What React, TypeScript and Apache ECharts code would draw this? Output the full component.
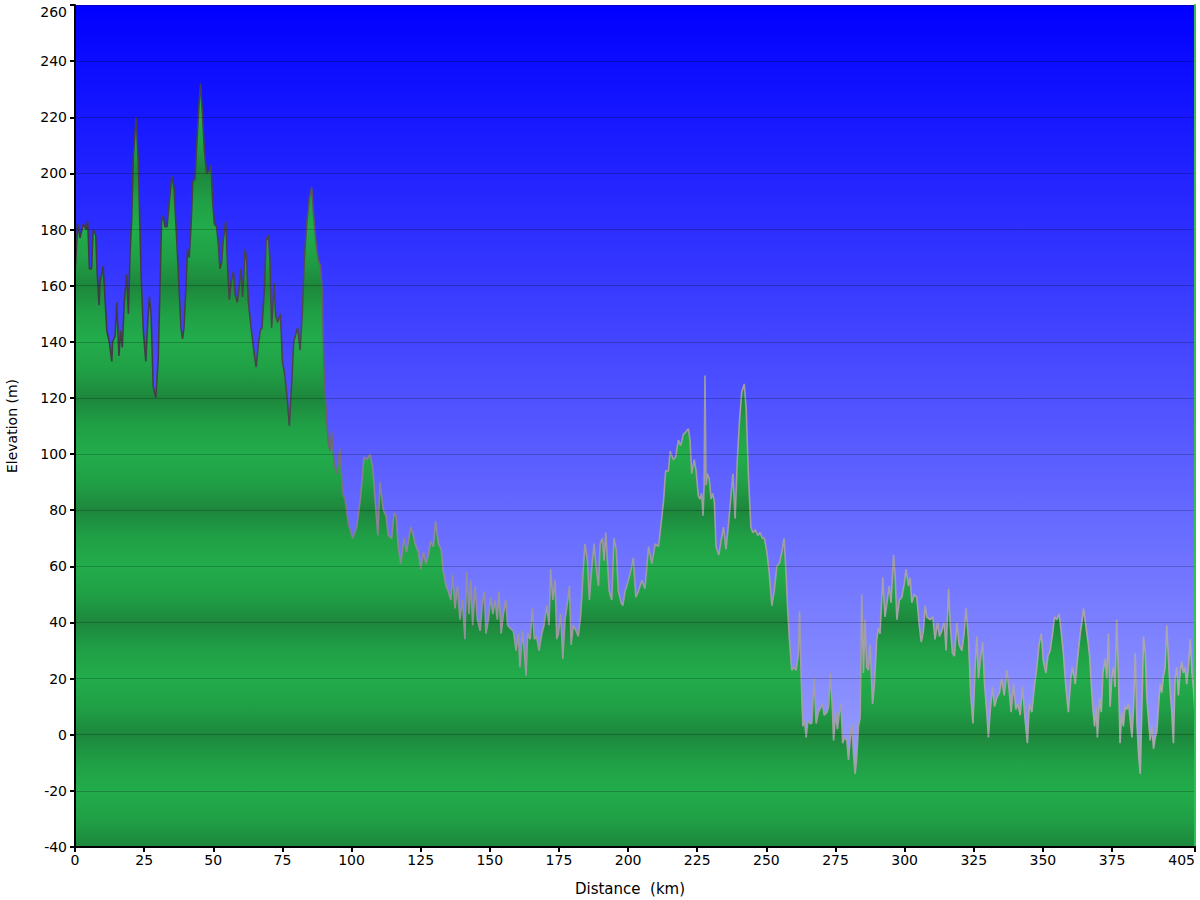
import React, { useEffect, useRef } from "react";
import * as echarts from "echarts";

// Distance along the route (km)
const distanceKm: number[] = [
  0, 0.96, 1.8, 3.0, 4.0, 4.6, 5.2, 6.0, 6.6, 7.5, 8.0, 8.7, 9.0, 10.2, 11.5, 12.4, 13.3, 13.6, 14.5, 15.1,
  15.9, 16.5, 17.1, 17.8, 18.7, 19.3, 19.9, 20.5, 21.1, 22.1, 22.9, 23.9, 24.7, 25.6, 26.3, 26.9, 27.5, 28.3, 29.2, 30.1,
  30.7, 31.3, 31.9, 32.5, 33.3, 34.1, 35.0, 35.8, 36.8, 37.4, 38.3, 38.9, 39.4, 40.1, 40.7, 41.3, 42.0, 42.6, 43.4, 44.0,
  44.8, 45.4, 46.1, 46.8, 47.6, 48.6, 49.2, 49.7, 50.4, 51.2, 51.8, 52.4, 53.0, 53.6, 54.5, 55.2, 55.8, 56.4, 57.3, 57.9,
  58.7, 59.3, 60.0, 60.6, 61.5, 62.1, 62.7, 63.9, 64.9, 65.5, 66.3, 67.0, 67.6, 68.5, 69.1, 69.9, 70.5, 71.1, 72.0, 72.6,
  73.3, 74.3, 75.0, 75.9, 76.8, 77.5, 78.4, 79.1, 79.9, 80.5, 81.4, 82.2, 82.9, 83.8, 84.7, 85.6, 86.3, 87.2, 88.0, 88.8,
  89.4, 90.1, 90.8, 91.6, 92.2, 92.8, 93.7, 94.6, 95.8,
  96.8, 97.6, 98.9, 100.4, 101.9, 103.3, 104.5, 105.5, 106.7, 107.7, 108.5, 109.5, 110.3, 111.5, 112.5, 113.3, 114.5, 115.4, 116.1, 116.9,
  117.8, 119.0, 119.9, 121.4, 122.1, 123.0, 124.2, 125.0, 126.0, 126.9, 127.8, 128.6, 129.6, 130.4, 131.4, 132.4, 133.2, 134.2, 135.0, 135.9,
  136.6, 137.4, 138.3, 139.2, 140.1, 141.0, 141.6, 142.5, 143.1, 143.8, 144.7, 145.5, 146.5, 147.2, 148.0, 148.6, 149.5, 150.3, 151.1, 151.9,
  152.7, 153.3, 154.1, 154.9, 155.8, 156.4, 157.3, 158.5, 159.5, 160.3, 160.9, 161.8, 162.5, 163.1, 163.7, 164.6, 165.4, 166.1, 166.9, 167.8,
  168.8, 169.6, 170.6, 171.4, 172.0, 172.8, 173.6, 174.2, 174.8, 175.6, 176.4, 177.2, 178.2, 178.8, 179.4, 180.2, 181.2, 182.0, 182.9, 183.8,
  184.4, 185.3, 186.0, 186.9, 187.7, 188.4, 189.3, 189.9, 190.7, 191.3, 191.9, 192.5, 193.2, 194.1, 194.9, 195.7, 196.5, 197.5,
  198.1, 198.9, 200.1, 201.1, 201.9, 202.8, 203.7, 205.0, 206.1, 207.4, 208.6, 209.8, 211.0, 211.8, 212.8, 213.6, 214.6, 215.2, 216.4, 217.2,
  218.2, 219.0, 220.0, 221.0, 221.8, 222.4, 223.0, 223.9, 224.6, 225.4, 226.0, 226.6, 227.1, 227.5, 227.8, 228.2, 228.7, 229.4, 230.0, 230.6,
  231.2, 231.8, 232.8, 233.6, 234.5, 235.4, 236.3, 237.1, 237.9, 238.7, 239.5, 240.3, 241.1, 242.0, 242.7, 243.5, 244.4, 245.1, 246.0, 246.9,
  247.7, 248.6, 249.3, 250.2, 251.0, 252.0, 252.8, 253.8, 254.7, 255.6, 256.4, 257.1, 257.7, 258.4, 259.2, 260.0, 260.8, 261.6, 262.0, 262.6,
  263.2, 263.8, 264.4, 265.0, 265.8, 266.4, 267.3, 268.0, 268.8, 269.8, 270.3, 270.9, 271.9, 272.5, 273.1, 273.9, 274.3, 275.1, 275.7, 276.4,
  277.0, 277.6, 278.2, 279.1, 279.7, 280.3, 280.9, 281.5, 282.1, 282.7, 283.3, 283.9,
  284.5, 285.1, 285.7, 286.3, 286.9, 287.5, 288.4, 289.1, 289.9, 290.5, 291.1, 292.1, 292.9, 293.6, 294.4, 295.1, 296.0, 296.6, 297.2, 298.1,
  299.0, 299.9, 300.5, 301.4, 302.0, 302.6, 303.4, 304.4, 305.2, 306.0, 306.8, 307.4, 308.0, 309.2, 310.2, 311.0, 311.9, 312.6, 313.4, 314.3,
  315.0, 315.9, 316.5, 317.3, 318.0, 318.9, 319.7, 320.7, 321.5, 322.2, 323.1, 323.9, 324.7, 325.5, 326.1, 326.7, 327.3, 328.2, 328.9, 329.7,
  330.3, 330.9, 331.8, 332.5, 333.3, 334.3, 335.1, 336.0, 337.0, 337.8, 338.5, 339.4, 340.2, 340.9, 341.8, 342.6, 343.6, 344.4, 345.1, 346.0,
  346.8, 347.8, 348.6, 349.4, 350.2, 351.1, 351.8, 352.6, 353.5, 354.2, 355.0, 355.9, 356.6, 357.4, 358.3, 359.2, 360.1, 360.7, 361.7, 362.5,
  363.5, 364.1, 364.7, 365.5, 366.2, 366.9, 367.5, 368.1, 368.7, 369.3, 369.7, 370.5, 371.1, 371.7, 372.5, 373.1, 373.7, 374.3, 374.9, 375.5,
  376.1, 376.7, 377.3, 377.9, 378.5, 379.1, 379.7, 380.3, 381.0, 381.6, 382.2, 382.8, 383.4, 384.0, 384.6, 385.2, 385.8, 386.4, 387.0, 387.6,
  388.3, 388.8, 389.4, 390.0, 390.6, 391.2, 391.8, 392.4, 393.0, 393.6, 394.2, 394.8, 395.4, 396.0, 396.6, 397.2, 397.8, 398.4, 399.0, 399.6,
  400.2, 400.8, 401.4, 402.0, 402.6, 403.3, 403.9, 404.5, 405,
];

// Elevation (m)
const elevationM: number[] = [
  164, 182, 177, 182, 180, 183, 166, 166, 180, 178, 165, 153, 161, 167, 144, 140, 133, 140, 142, 154,
  135, 144, 138, 154, 164, 150, 171, 184, 206, 220, 204, 164, 144, 133, 147, 156, 150, 124, 120, 134,
  158, 183, 185, 181, 181, 190, 199, 195, 176, 164, 145, 141, 145, 159, 173, 170, 182, 197, 198, 210,
  224, 232, 221, 208, 200, 201, 203, 191, 182, 181, 175, 166, 168, 176, 183, 166, 155, 161, 165, 157,
  154, 159, 166, 156, 173, 169, 154, 143, 135, 131, 139, 144, 145, 159, 176, 178, 169, 145, 161, 149,
  147, 150, 133, 128, 119, 110, 126, 140, 143, 145, 137, 150, 169, 182, 191, 195, 185, 175, 169, 167,
  158, 128, 116, 104, 101, 108, 97, 93, 102,
  86, 84, 75, 70, 74, 85, 99, 98, 100, 95, 84, 71, 90, 80, 78, 71, 70, 79, 78, 67,
  61, 70, 65, 74, 72, 68, 65, 59, 65, 61, 64, 69, 67, 76, 68, 66, 58, 53, 51, 48,
  57, 45, 53, 41, 48, 34, 58, 43, 55, 39, 53, 41, 37, 46, 51, 36, 41, 49, 43, 48,
  41, 51, 36, 43, 48, 39, 38, 37, 30, 36, 24, 37, 29, 21, 36, 34, 45, 34, 35, 30,
  36, 39, 46, 39, 59, 48, 55, 34, 36, 43, 27, 41, 48, 53, 32, 39, 37, 35, 43, 59,
  68, 62, 48, 60, 68, 60, 53, 68, 70, 62, 72, 62, 51, 48, 70, 66, 51, 47,
  46, 51, 55, 59, 63, 49, 51, 55, 52, 67, 61, 68, 67, 74, 83, 94, 94, 101, 98, 99,
  105, 103, 107, 108, 109, 105, 93, 98, 94, 85, 84, 86, 78, 89, 128, 89, 93, 91, 84, 86,
  83, 67, 64, 69, 74, 66, 75, 84, 93, 77, 98, 112, 122, 125, 116, 93, 74, 72, 73, 71,
  72, 70, 70, 65, 58, 46, 51, 60, 61, 65, 70, 58, 45, 33, 23, 24, 23, 29, 44, 20,
  3, 5, -1, 5, 4, 4, 20, 4, 8, 10, 11, 7, 8, 10, 22, 9, -2, 8, 2, 8,
  11, -3, -1, -2, -9, -2, 4, -7, -14, -8, 3, 6,
  50, 22, 41, 24, 23, 32, 11, 18, 34, 38, 36, 56, 42, 47, 53, 47, 64, 56, 41, 48,
  49, 54, 59, 53, 56, 47, 50, 49, 40, 33, 37, 46, 42, 41, 42, 34, 40, 35, 37, 40,
  30, 52, 39, 29, 28, 40, 32, 30, 36, 45, 34, 14, 4, 24, 35, 20, 26, 33, 18, 8,
  -1, 8, 17, 10, 13, 15, 20, 14, 23, 16, 8, 18, 9, 11, 7, 17, 5, -3, 11, 8,
  16, 24, 32, 36, 26, 22, 28, 30, 36, 42, 41, 43, 37, 29, 17, 8, 20, 24, 18, 27,
  36, 40, 45, 39, 34, 28, 18, 9, 3, 10, -1, 13, 8, 22, 27, 20, 36, 10, 20, 24,
  17, 41, 22, -3, 8, 3, 10, 9, 11, 5, -1, 10, 29, 4, -7, -14, 10, 35, 29, 13,
  4, -2, 3, -5, -1, 1, 10, 18, 15, 21, 24, 39, 27, 16, 8, -3, 20, 24, 14, 22,
  26, 22, 24, 18, 24, 34, 22, 16, 8,
];

// Axis ticks
const xTickValues: number[] = [0, 25, 50, 75, 100, 125, 150, 175, 200, 225, 250, 275, 300, 325, 350, 375, 405];
const yMin = -40;
const yMax = 260;
const yStep = 20;

const GRID_TOP = 5;
const GRID_BOTTOM_PX = 847;

export default function App() {
  const ref = useRef<HTMLDivElement>(null);

  useEffect(() => {
    if (!ref.current) return;
    const chart = echarts.init(ref.current, undefined, { renderer: "svg" });

    const data = distanceKm.map((d, i) => [d, elevationM[i]]);

    // banded green fill: dark at multiples of 40 m, light in between
    const stops: { offset: number; color: string }[] = [];
    for (let v = yMax; v >= yMin; v -= 10) {
      const off = (yMax - v) / (yMax - yMin);
      const m = ((v % 40) + 40) % 40;
      let color = "#22ac4b";
      if (m === 0) color = "#1d873c";
      else if (m === 10 || m === 30) color = "#20a046";
      stops.push({ offset: off, color });
    }
    const areaGradient = new echarts.graphic.LinearGradient(0, GRID_TOP, 0, GRID_BOTTOM_PX, stops, true);

    const font = "DejaVu Sans, Verdana, sans-serif";

    chart.setOption({
      animation: false,
      backgroundColor: "#ffffff",
      grid: {
        left: 75,
        right: 5,
        top: GRID_TOP,
        bottom: 900 - GRID_BOTTOM_PX,
        outerBoundsMode: "none",
        containLabel: false,
        show: true,
        borderWidth: 0,
        backgroundColor: new echarts.graphic.LinearGradient(0, 0, 0, 1, [
          { offset: 0, color: "#0000ff" },
          { offset: 1, color: "#a8aeff" },
        ]),
      },
      xAxis: {
        type: "value",
        min: 0,
        max: 405,
        interval: 25,
        name: "Distance  (km)",
        nameLocation: "middle",
        nameGap: 34,
        nameTextStyle: { color: "#000", fontSize: 15, fontFamily: font, padding: [0, 10, 0, 0] },
        axisLine: { show: true, onZero: false, lineStyle: { color: "#000", width: 2 } },
        axisTick: { show: true, length: 5, lineStyle: { color: "#000", width: 2 }, customValues: xTickValues },
        axisLabel: {
          color: "#000",
          fontSize: 14,
          fontFamily: font,
          margin: 6,
          customValues: xTickValues,
          alignMaxLabel: "right",
        },
        splitLine: { show: false },
        z: 10,
      },
      yAxis: [
        {
          type: "value",
          min: yMin,
          max: yMax,
          interval: yStep,
          name: "Elevation (m)",
          nameLocation: "middle",
          nameRotate: 90,
          nameGap: 56,
          nameTextStyle: { color: "#000", fontSize: 14, fontFamily: font },
          axisLine: { show: true, onZero: false, lineStyle: { color: "#000", width: 2 } },
          axisTick: { show: true, length: 5, lineStyle: { color: "#000", width: 2 } },
          axisLabel: {
            color: "#000",
            fontSize: 14,
            fontFamily: font,
            margin: 8,
            verticalAlignMaxLabel: "top",
          },
          splitLine: { show: true, lineStyle: { color: "rgba(0,0,0,0.22)", width: 1 } },
          z: 10,
        },
        {
          type: "value",
          position: "right",
          min: yMin,
          max: yMax,
          interval: yStep,
          axisLine: { show: true, onZero: false, lineStyle: { color: "#2fbf55", width: 2 } },
          axisTick: { show: false },
          axisLabel: { show: false },
          splitLine: { show: false },
          z: 10,
        },
      ],
      series: [
        {
          type: "line",
          data,
          showSymbol: false,
          smooth: false,
          yAxisIndex: 0,
          lineStyle: {
            width: 1.6,
            color: new echarts.graphic.LinearGradient(0, 0, 1, 0, [
              { offset: 0, color: "#3d3a44" },
              { offset: 0.2, color: "#4a4650" },
              { offset: 0.25, color: "#858090" },
              { offset: 0.4, color: "#9a98a0" },
              { offset: 1, color: "#aaa8ad" },
            ]),
          },
          areaStyle: { origin: "start", color: areaGradient, opacity: 1 },
          z: 2,
        },
      ],
    });

    return () => chart.dispose();
  }, []);

  return (
    <div
      ref={ref}
      style={{ position: "absolute", left: 0, top: 0, width: 1200, height: 900 }}
    />
  );
}
